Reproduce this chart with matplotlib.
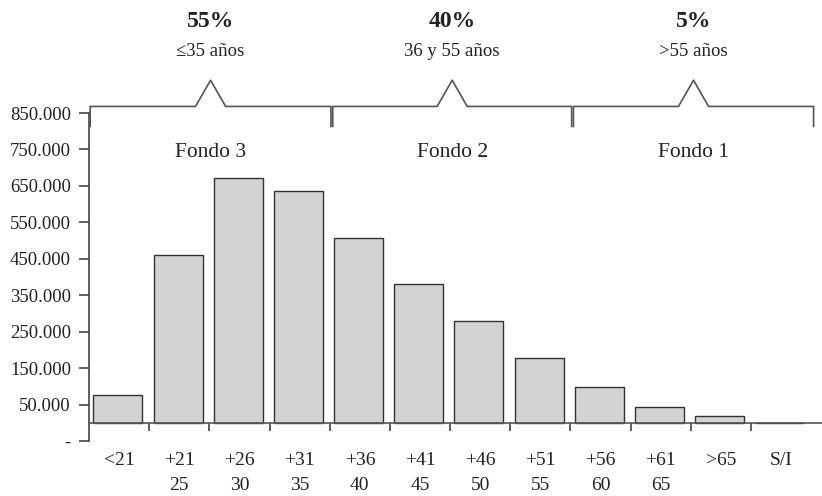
import numpy as np
import matplotlib.pyplot as plt
from matplotlib import transforms

plt.rcParams['font.family'] = ['Liberation Serif', 'DejaVu Serif']

# data
categories = ['<21', '+21\n25', '+26\n30', '+31\n35', '+36\n40', '+41\n45',
              '+46\n50', '+51\n55', '+56\n60', '+61\n65', '>65', 'S/I']
affiliates = [76000, 461000, 673000, 637000, 508000, 382000,
              280000, 179000, 99000, 43000, 18000, 0]
ytick_vals = [-50000, 50000, 150000, 250000, 350000, 450000,
              550000, 650000, 750000, 850000]
ytick_labels = ['-', '50.000', '150.000', '250.000', '350.000', '450.000',
                '550.000', '650.000', '750.000', '850.000']
fund_names = ['Fondo 3', 'Fondo 2', 'Fondo 1']
fund_share = ['55%', '40%', '5%']
fund_ages = ['\u226435 a\u00f1os', '36 y 55 a\u00f1os', '>55 a\u00f1os']
fund_spans = [(-0.48, 3.52), (3.55, 7.52), (7.55, 11.54)]

fig = plt.figure(figsize=(8.22, 4.96), dpi=100)
ax = fig.add_axes([89 / 822, 1 - 441 / 496, 1 - 89 / 822, (441 - 113) / 496])

x = np.arange(len(categories))
ax.bar(x - 0.02, affiliates, width=0.815, color='#d3d3d3', edgecolor='#333333',
       linewidth=1.0, zorder=2)

ax.set_xlim(-0.5, 11.68)
ax.set_ylim(-50000, 850000)

# axis styling
for s in ['top', 'right', 'bottom']:
    ax.spines[s].set_visible(False)
ax.spines['left'].set_color('#444444')
ax.spines['left'].set_linewidth(1.2)
ax.axhline(0, color='#555555', linewidth=1.2, zorder=3)

ax.set_yticks(ytick_vals)
ax.set_yticklabels(ytick_labels, fontsize=13.5, color='#222222')
ax.tick_params(axis='y', length=7, width=1.2, color='#444444', pad=6)

ax.set_xticks(x)
ax.set_xticklabels(categories, fontsize=14, color='#222222', linespacing=1.6, va='top')
ax.tick_params(axis='x', which='major', length=0, pad=8)
ax.set_xticks(np.arange(0.5, 11, 1.0), minor=True)
ax.tick_params(axis='x', which='minor', length=6, width=1.2, color='#444444',
               direction='out')
# move minor ticks up to the zero line
shift = transforms.ScaledTranslation(0, (441 - 423) / 100, fig.dpi_scale_trans)
for t in ax.xaxis.get_minor_ticks():
    t.tick1line.set_transform(ax.get_xaxis_transform() + shift)

# fund brackets
y_line = 868000
y_drop = 813000
y_peak = 940000
for (x0, x1), name, share, ages in zip(fund_spans, fund_names, fund_share, fund_ages):
    xc = (x0 + x1) / 2
    xs = [x0, x0, xc - 0.25, xc, xc + 0.25, x1, x1]
    ys = [y_drop, y_line, y_line, y_peak, y_line, y_line, y_drop]
    ax.plot(xs, ys, color='#555555', linewidth=1.2, clip_on=False, zorder=4)
    ax.text(xc, 742000, name, ha='center', va='center', fontsize=15.5, color='#222222')
    ax.text(xc, 1101000, share, ha='center', va='center', fontsize=17,
            fontweight='bold', color='#222222', clip_on=False)
    ax.text(xc, 1019000, ages, ha='center', va='center', fontsize=13.5,
            color='#222222', clip_on=False)

fig.savefig('out.png', dpi=100)
